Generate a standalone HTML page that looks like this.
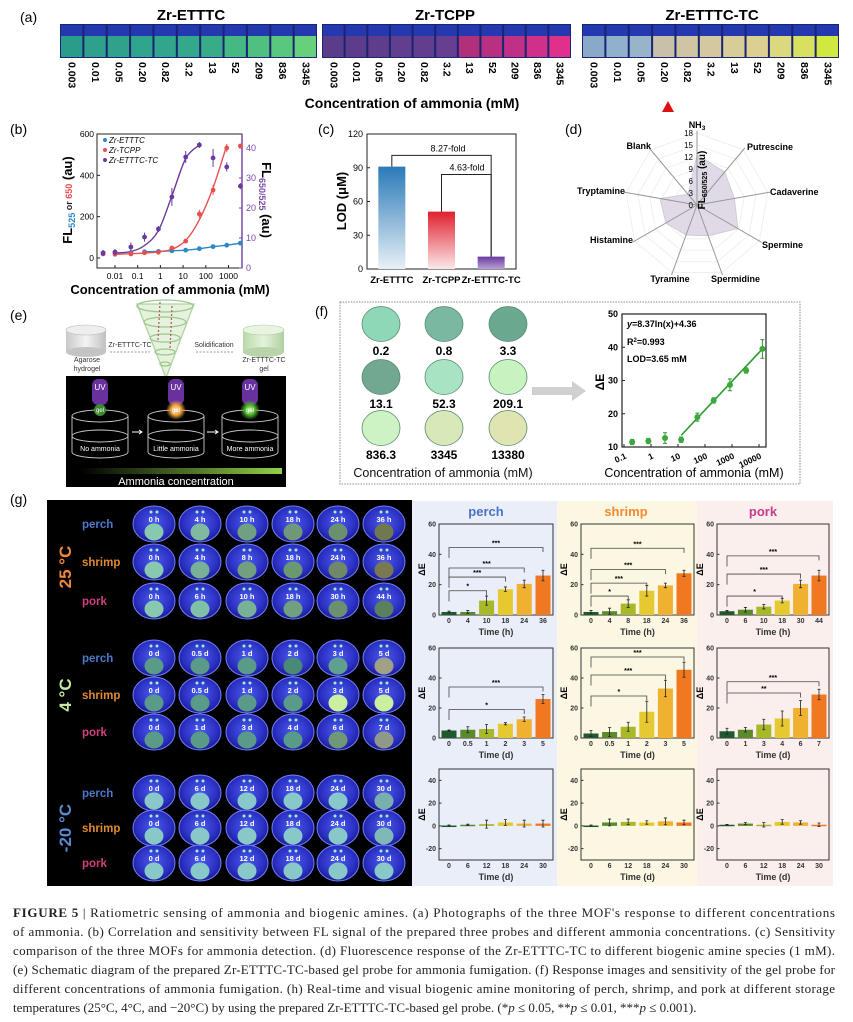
<!DOCTYPE html>
<html><head><meta charset="utf-8">
<style>
html,body{margin:0;padding:0;background:#fff;}
svg{display:block;font-family:"Liberation Sans",Arial,sans-serif;}
.b{font-weight:bold;}
.cap{font-family:"Liberation Serif",serif;font-size:13px;fill:#222;}
</style></head>
<body>
<svg id="fig" xmlns="http://www.w3.org/2000/svg" width="853" height="1022" viewBox="0 0 853 1022">
<defs>
  <radialGradient id="dishG" cx="50%" cy="45%" r="60%"><stop offset="0" stop-color="#4a5cf0"/><stop offset="0.7" stop-color="#2a2ec0"/><stop offset="1" stop-color="#15157a"/></radialGradient>
  <linearGradient id="gradBar" x1="0" x2="1"><stop offset="0" stop-color="#000"/><stop offset="1" stop-color="#90d048"/></linearGradient>
  <linearGradient id="gBlue" x1="0" y1="0" x2="0" y2="1"><stop offset="0" stop-color="#2a7ab8"/><stop offset="1" stop-color="#e8f0f6"/></linearGradient>
  <linearGradient id="gRed" x1="0" y1="0" x2="0" y2="1"><stop offset="0" stop-color="#e0202e"/><stop offset="1" stop-color="#fbe8ea"/></linearGradient>
  <linearGradient id="gPur" x1="0" y1="0" x2="0" y2="1"><stop offset="0" stop-color="#6a3aa0"/><stop offset="1" stop-color="#b8a0d8"/></linearGradient>
  <radialGradient id="uvG" cx="50%" cy="50%" r="50%"><stop offset="0" stop-color="#b070f0"/><stop offset="1" stop-color="#5a2a90" stop-opacity="0"/></radialGradient>
  <radialGradient id="orG" cx="50%" cy="50%" r="50%"><stop offset="0" stop-color="#fff0b0"/><stop offset="0.5" stop-color="#f0a040"/><stop offset="1" stop-color="#f0a040" stop-opacity="0"/></radialGradient>
  <radialGradient id="grG" cx="50%" cy="50%" r="50%"><stop offset="0" stop-color="#c0ff90"/><stop offset="0.5" stop-color="#50b030"/><stop offset="1" stop-color="#50b030" stop-opacity="0"/></radialGradient>
  <linearGradient id="cylG" x1="0" x2="1"><stop offset="0" stop-color="#c8c8c8"/><stop offset="0.5" stop-color="#f4f4f4"/><stop offset="1" stop-color="#c0c0c0"/></linearGradient>
  <linearGradient id="cylG2" x1="0" x2="1"><stop offset="0" stop-color="#b8d8a8"/><stop offset="0.5" stop-color="#e4f4dc"/><stop offset="1" stop-color="#b0d0a0"/></linearGradient>
</defs>

<!-- (a) -->
<g>
  <text x="20" y="22" font-size="14">(a)</text>
  <text class="b" x="191" y="20" font-size="15" text-anchor="middle">Zr-ETTTC</text>
  <text class="b" x="445" y="20" font-size="15" text-anchor="middle">Zr-TCPP</text>
  <text class="b" x="712" y="20" font-size="15" text-anchor="middle">Zr-ETTTC-TC</text>
  <g id="vials"></g>
  <text class="b" x="412" y="108" font-size="14" text-anchor="middle">Concentration  of ammonia (mM)</text>
  <polygon points="668,101 662,112 674,112" fill="#e01010"/>
</g>

<!-- (b) -->
<g id="pb">
  <text x="10" y="134" font-size="14">(b)</text>
</g>
<!-- (c) -->
<g id="pc">
  <text x="318" y="134" font-size="14">(c)</text>
</g>
<!-- (d) -->
<g id="pd">
  <text x="565" y="134" font-size="14">(d)</text>
</g>

<!-- (e) -->
<g id="pe">
  <text x="10" y="320" font-size="14">(e)</text>
  <g>
    <rect x="66" y="330" width="40" height="22" fill="url(#cylG)"/>
    <ellipse cx="86" cy="352" rx="20" ry="5" fill="#c4c4c4"/>
    <ellipse cx="86" cy="330" rx="20" ry="5" fill="#eee" stroke="#bbb" stroke-width="0.6"/>
  </g>
  <text x="87" y="362" font-size="7" text-anchor="middle" fill="#333">Agarose</text>
  <text x="87" y="371" font-size="7" text-anchor="middle" fill="#333">hydrogel</text>
  <text x="130" y="347" font-size="7" text-anchor="middle" fill="#333">Zr-ETTTC-TC</text>
  <line x1="110" y1="352" x2="150" y2="352" stroke="#999" stroke-dasharray="2,1.5"/>
  <g fill="none" stroke="#9cc88c" stroke-width="1.3">
    <polygon points="137,304 194,304 166,378" fill="#e6f2de" stroke="#b0d4a0"/>
    <ellipse cx="165" cy="306" rx="28" ry="6"/>
    <ellipse cx="165" cy="322" rx="21" ry="5"/>
    <ellipse cx="165" cy="338" rx="15" ry="4"/>
    <ellipse cx="165" cy="352" rx="10" ry="3"/>
    <ellipse cx="165" cy="364" rx="5" ry="2"/>
    <line x1="160" y1="302" x2="158" y2="340" stroke="#b06070" stroke-dasharray="2,2"/>
    <line x1="172" y1="306" x2="170" y2="350" stroke="#b06070" stroke-dasharray="2,2"/>
  </g>
  <text x="214" y="347" font-size="7" text-anchor="middle" fill="#333">Solidification</text>
  <line x1="196" y1="352" x2="234" y2="352" stroke="#999" stroke-dasharray="2,1.5"/>
  <g>
    <rect x="243" y="330" width="41" height="22" fill="url(#cylG2)"/>
    <ellipse cx="263.5" cy="352" rx="20.5" ry="5" fill="#b8d4a8"/>
    <ellipse cx="263.5" cy="330" rx="20.5" ry="5" fill="#e8f4e0" stroke="#b0d0a0" stroke-width="0.6"/>
  </g>
  <text x="264" y="362" font-size="7" text-anchor="middle" fill="#333">Zr-ETTTC-TC</text>
  <text x="264" y="371" font-size="7" text-anchor="middle" fill="#333">gel</text>
  <rect x="66" y="376" width="220" height="111" fill="#000"/>
  <g id="fum"></g>
  <rect x="80" y="468" width="202" height="6" fill="url(#gradBar)"/>
  <text x="176" y="485" font-size="11" text-anchor="middle" fill="#fff">Ammonia concentration</text>
</g>

<!-- (f) -->
<g id="pf">
  <rect x="340" y="302" width="460" height="182" fill="none" stroke="#888" stroke-dasharray="1.5,1.2" stroke-width="1"/>
  <text x="315" y="316" font-size="14">(f)</text>
  <g id="fcircles"></g>
  <text x="443" y="477" font-size="12.5" text-anchor="middle" fill="#111">Concentration  of  ammonia (mM)</text>
  <polygon points="532,387 572,387 572,381 586,391 572,401 572,395 532,395" fill="#d0d0d0"/>
</g>

<!-- (g) -->
<g id="pg">
  <text x="10" y="504" font-size="14">(g)</text>
  <rect x="412" y="501" width="145" height="385" fill="#e9eef8"/>
  <rect x="557" y="501" width="140" height="385" fill="#fcf7e2"/>
  <rect x="697" y="501" width="136" height="385" fill="#fbefed"/>
  <text class="b" x="486" y="516" font-size="13" text-anchor="middle" fill="#4a72c8">perch</text>
  <text class="b" x="626" y="516" font-size="13" text-anchor="middle" fill="#f08a30">shrimp</text>
  <text class="b" x="763" y="516" font-size="13" text-anchor="middle" fill="#c83a8a">pork</text>
  <rect x="47" y="500" width="365" height="386" fill="#000"/>
  <g id="photos"></g>
  <g id="bars"></g>
</g>

<!-- caption -->
<g class="cap">
  <text x="13" y="917" textLength="822" lengthAdjust="spacing"><tspan font-weight="bold">FIGURE 5</tspan>  |  Ratiometric sensing of ammonia and biogenic amines. (a) Photographs of the three MOF's response to different concentrations</text>
  <text x="13" y="936" textLength="822" lengthAdjust="spacing">of ammonia. (b) Correlation and sensitivity between FL signal of the prepared three probes and different ammonia concentrations. (c) Sensitivity</text>
  <text x="13" y="955" textLength="822" lengthAdjust="spacing">comparison of the three MOFs for ammonia detection. (d) Fluorescence response of the Zr-ETTTC-TC to different biogenic amine species (1 mM).</text>
  <text x="13" y="974" textLength="822" lengthAdjust="spacing">(e) Schematic diagram of the prepared Zr-ETTTC-TC-based gel probe for ammonia fumigation. (f) Response images and sensitivity of the gel probe for</text>
  <text x="13" y="993" textLength="822" lengthAdjust="spacing">different concentrations of ammonia fumigation. (h) Real-time and visual biogenic amine monitoring of perch, shrimp, and pork at different storage</text>
  <text x="13" y="1012">temperatures (25°C, 4°C, and −20°C) by using the prepared Zr-ETTTC-TC-based gel probe. (*<tspan font-style="italic">p</tspan> ≤ 0.05, **<tspan font-style="italic">p</tspan> ≤ 0.01, ***<tspan font-style="italic">p</tspan> ≤ 0.001).</text>
</g>
</svg>

<script>
const NS='http://www.w3.org/2000/svg';
function add(p,tag,attrs,name,txt){
  const el=document.createElementNS(NS,tag);
  for(const k in attrs) el.setAttribute(k,attrs[k]);
  
  
  if(txt!==undefined) el.textContent=txt;
  p.appendChild(el);
  return el;
}
function smooth(pts){
  let d='M'+pts[0][0]+','+pts[0][1];
  for(let i=0;i<pts.length-1;i++){
    const p0=pts[Math.max(0,i-1)],p1=pts[i],p2=pts[i+1],p3=pts[Math.min(pts.length-1,i+2)];
    const c1=[p1[0]+(p2[0]-p0[0])/6,p1[1]+(p2[1]-p0[1])/6];
    const c2=[p2[0]-(p3[0]-p1[0])/6,p2[1]-(p3[1]-p1[1])/6];
    d+=' C'+c1.join(',')+' '+c2.join(',')+' '+p2.join(',');
  }
  return d;
}

/* ---------- (a) data ---------- */
const aConc=['0.003','0.01','0.05','0.20','0.82','3.2','13','52','209','836','3345'];
const aColorsEttc=['#2a9c8a','#2ea08c','#30a28c','#30a48c','#32a68c','#34a88a','#38ac88','#46b882','#50c080','#58c87e','#66d07a'];
const aColorsTcpp=['#5a3c8a','#5e3c8c','#603c8c','#623e8e','#643e8e','#683e90','#b0307a','#b83080','#c03086','#d0308a','#e0308c'];
const aColorsTc=['#8aa8c8','#90b0cc','#98b4c8','#c8c0a8','#cfc4a4','#d4c8a0','#d8cc98','#dcd090','#dcd880','#d8e060','#d0e840'];
(function(){
  const g=document.getElementById('vials');
  const strips=[[60,317,aColorsEttc,'ettc'],[322,571,aColorsTcpp,'tcpp'],[582,839,aColorsTc,'ettc-tc']];
  strips.forEach(s=>{
    const [x0,x1,cols,nm]=s;
    add(g,'rect',{x:x0,y:24,width:x1-x0,height:34,fill:'#1a2470'},'vial-strip-'+nm);
    const w=(x1-x0)/aConc.length;
    aConc.forEach((c,i)=>{
      const x=x0+i*w;
      add(g,'rect',{x:x+1,y:25,width:w-2,height:11,fill:'#2438b0'},'vial-cap');
      add(g,'rect',{x:x+1,y:36,width:w-2,height:21,fill:cols[i]},'vial-'+nm+'-'+c);
      const cx=x+w/2;
      add(g,'text',{x:cx,y:62,'font-size':10.5,'font-weight':'bold','dominant-baseline':'central',transform:'rotate(90,'+cx+',62)'},'conc-label',c);
    });
  });
})();

/* ---------- (b) data ---------- */
const bConc=[0.003,0.01,0.05,0.2,0.82,3.2,13,52,209,836,3345];
const bEttc=[25,28,26,30,32,35,38,45,55,62,72];
const bTcpp=[20,18,20,25,28,48,82,213,329,532,542];
const bTc=[5,5.3,7,10.3,13,23.7,37,41,36.7,33.7,27.3];
const bErrEttc=[5,4,4,4,4,5,6,6,6,6,6];
const bErrTcpp=[6,6,8,5,5,8,10,20,25,20,10];
const bErrTc=[1,1,1.5,1.5,1,3,2,1,3,1.5,1];
const bFitTcConc=[0.01,0.05,0.2,0.82,3.2,13,52];
const bFitTcVal=[5,5.5,7.5,12.5,24,36.5,41];
const bFitTcppConc=[0.01,0.2,0.82,3.2,13,52,209,836];
const bFitTcppVal=[18,24,30,42,85,185,340,545];
const bXTicks=[0.01,0.1,1,10,100,1000];
const bXTickLabels=['0.01','0.1','1','10','100','1000'];
const bYLTicks=[0,200,400,600];
const bYRTicks=[0,10,20,30,40];
(function(){
  const g=document.getElementById('pb');
  const bx=v=>115+(Math.log10(v)+2)*22.7;
  const byL=v=>258-v*(124/600);
  const byR=v=>268-v*3;
  add(g,'rect',{x:97,y:134,width:145,height:134,fill:'none',stroke:'#222','stroke-width':1},'b-plot-frame');
  add(g,'line',{x1:242,y1:134,x2:242,y2:268,stroke:'#7a4aa8','stroke-width':1.5},'b-right-axis');
  bYLTicks.forEach(t=>{
    add(g,'line',{x1:97,x2:100,y1:byL(t),y2:byL(t),stroke:'#222'},'b-left-tick');
    add(g,'text',{x:94,y:byL(t)+3,'font-size':8.5,'text-anchor':'end'},'b-left-tick-label',t);
  });
  bYRTicks.forEach(t=>{
    add(g,'line',{x1:242,x2:239,y1:byR(t),y2:byR(t),stroke:'#7a4aa8'},'b-right-tick');
    add(g,'text',{x:246,y:byR(t)+3,'font-size':9,fill:'#7a4aa8'},'b-right-tick-label',t);
  });
  bXTicks.forEach((t,i)=>{
    add(g,'line',{x1:bx(t),x2:bx(t),y1:268,y2:265,stroke:'#222'},'b-x-tick');
    add(g,'text',{x:bx(t),y:279,'font-size':8.5,'text-anchor':'middle'},'b-x-tick-label',bXTickLabels[i]);
  });
  const lt=add(g,'text',{transform:'translate(72,200) rotate(-90)','font-size':13,'font-weight':'bold','text-anchor':'middle'},'b-left-axis-title');
  lt.innerHTML='FL<tspan font-size="9" dy="3" fill="#2a88c8">525</tspan><tspan font-size="9" dy="-3" fill="#222"> or </tspan><tspan font-size="9" fill="#e84848">650</tspan><tspan> (au)</tspan>';
  const rt=add(g,'text',{transform:'translate(262,200) rotate(90)','font-size':13,'font-weight':'bold','text-anchor':'middle'},'b-right-axis-title');
  rt.innerHTML='FL<tspan font-size="9" dy="3" fill="#7a4aa8">650/525</tspan><tspan dy="-3"> (au)</tspan>';
  add(g,'text',{x:170,y:294,'font-size':13,'font-weight':'bold','text-anchor':'middle'},'b-x-axis-title','Concentration of ammonia (mM)');
  add(g,'path',{d:smooth(bConc.map((c,i)=>[bx(c),byL(bEttc[i])]).slice(3)),fill:'none',stroke:'#2a88c8','stroke-width':1.4},'b-fit-ettc');
  add(g,'path',{d:smooth(bFitTcppConc.map((c,i)=>[bx(c),byL(bFitTcppVal[i])])),fill:'none',stroke:'#e85050','stroke-width':1.4},'b-fit-tcpp');
  add(g,'path',{d:smooth(bFitTcConc.map((c,i)=>[bx(c),byR(bFitTcVal[i])])),fill:'none',stroke:'#6a3aa0','stroke-width':1.4},'b-fit-ettc-tc');
  const series=[[bEttc,bErrEttc,byL,'#2a88c8','ettc'],[bTcpp,bErrTcpp,byL,'#e85050','tcpp'],[bTc,bErrTc,byR,'#6a3aa0','ettc-tc']];
  series.forEach(s=>{
    const [vals,errs,sc,col,nm]=s;
    vals.forEach((v,i)=>{
      const x=bx(bConc[i]);
      add(g,'line',{x1:x,x2:x,y1:sc(v+errs[i]),y2:sc(v-errs[i]),stroke:col,'stroke-width':1},'b-errorbar-'+nm);
      add(g,'circle',{cx:x,cy:sc(v),r:2.4,fill:col},'b-point-'+nm);
    });
  });
  const leg=[['Zr-ETTTC','#2a88c8',143],['Zr-TCPP','#e85050',153],['Zr-ETTTC-TC','#6a3aa0',163]];
  leg.forEach(l=>{
    add(g,'circle',{cx:105,cy:l[2]-3,r:2,fill:l[1]},'b-legend-marker');
    add(g,'text',{x:109,y:l[2],'font-size':8,'font-style':'italic'},'b-legend-entry',l[0]);
  });
})();

/* ---------- (c) data ---------- */
const cCats=['Zr-ETTTC','Zr-TCPP','Zr-ETTTC-TC'];
const cVals=[91,51,11];
const cTicks=[0,30,60,90,120];
const cFolds=['8.27-fold','4.63-fold'];
const cBracketY=[101,84];
(function(){
  const g=document.getElementById('pc');
  const x0=367,x1=516,step=(x1-x0)/cCats.length;
  const cx=i=>x0+step*(i+0.5);
  const cy=v=>269-v*(135/120);
  add(g,'rect',{x:x0,y:134,width:x1-x0,height:135,fill:'none',stroke:'#222'},'c-plot-frame');
  cTicks.forEach(t=>{
    add(g,'line',{x1:x0,x2:x0+3,y1:cy(t),y2:cy(t),stroke:'#222'},'c-y-tick');
    add(g,'text',{x:x0-4,y:cy(t)+3,'font-size':9,'text-anchor':'end'},'c-y-tick-label',t);
  });
  add(g,'text',{transform:'translate(346,201) rotate(-90)','font-size':13,'font-weight':'bold','text-anchor':'middle'},'c-y-axis-title','LOD (μM)');
  const fills=['url(#gBlue)','url(#gRed)','url(#gPur)'];
  cVals.forEach((v,i)=>{
    add(g,'rect',{x:cx(i)-13.5,y:cy(v),width:27,height:cy(0)-cy(v),fill:fills[i]},'c-bar-'+cCats[i].toLowerCase());
    add(g,'text',{x:cx(i),y:283,'font-size':9.5,'font-weight':'bold','text-anchor':'middle'},'c-x-label',cCats[i]);
  });
  const pairs=[[0,2],[1,2]];
  pairs.forEach((p,k)=>{
    const ya=cy(cBracketY[k]);
    add(g,'path',{d:'M'+cx(p[0])+','+cy(cVals[p[0]])+' V'+ya+' H'+cx(p[1])+' V'+cy(cVals[p[1]]),fill:'none',stroke:'#222','stroke-width':1},'c-bracket');
    const tx=k===0?448:467;
    add(g,'text',{x:tx,y:ya-4,'font-size':9,'text-anchor':'middle'},'c-fold-label',cFolds[k]);
  });
})();

/* ---------- (d) data ---------- */
const dAxes=['NH3','Putrescine','Cadaverine','Spermine','Spermidine','Tyramine','Histamine','Tryptamine','Blank'];
const dVals=[12.5,10.8,9.5,11.8,8.2,8,9,9.4,3.5];
const dTicks=[0,3,6,9,12,15,18];
(function(){
  const g=document.getElementById('pd');
  const cx=697,cy=205,R=72,max=18;
  const pt=(i,v)=>{const a=(i*40)*Math.PI/180;return [cx+Math.sin(a)*v/max*R, cy-Math.cos(a)*v/max*R];};
  dTicks.slice(1).forEach(t=>{
    const pts=dAxes.map((a,i)=>pt(i,t).join(',')).join(' ');
    add(g,'polygon',{points:pts,fill:'none',stroke:'#ececec','stroke-width':0.8},'d-grid-ring');
  });
  add(g,'polygon',{points:dVals.map((v,i)=>pt(i,v).join(',')).join(' '),fill:'#ddd6e4',stroke:'#cfc6d8','stroke-width':0.8,'fill-opacity':0.9},'d-radar-area');
  dAxes.forEach((a,i)=>{
    const e=pt(i,18.6);
    add(g,'line',{x1:cx,y1:cy,x2:e[0],y2:e[1],stroke:'#999','stroke-width':1},'d-spoke');
  });
  dTicks.forEach(t=>{
    add(g,'text',{x:cx-4,y:cy-t/max*R+3,'font-size':8,'text-anchor':'end'},'d-tick-label',t);
  });
  const lbl=[[697,128,'middle'],[747,150,'start'],[770,195,'start'],[762,248,'start'],[711,282,'start'],[670,282,'middle'],[633,243,'end'],[625,194,'end'],[651,149,'end']];
  dAxes.forEach((a,i)=>{
    const t=add(g,'text',{x:lbl[i][0],y:lbl[i][1],'font-size':9,'font-weight':'bold','text-anchor':lbl[i][2]},'d-axis-label');
    if(a==='NH3'){t.innerHTML='NH<tspan font-size="6.5" dy="2">3</tspan>';} else t.textContent=a;
  });
  const at=add(g,'text',{transform:'translate(705,180) rotate(-90)','font-size':10,'font-weight':'bold','text-anchor':'middle'},'d-axis-title');
  at.innerHTML='FL<tspan font-size="7" dy="2">650/525</tspan><tspan dy="-2"> (au)</tspan>';
})();

/* ---------- (e) fumigation schematic ---------- */
(function(){
  const g=document.getElementById('fum');
  const xs=[100,176,250];
  const glows=['#5aa040','url(#orG)','url(#grG)'];
  const labels=['No ammonia','Little ammonia','More ammonia'];
  xs.forEach((x,i)=>{
    add(g,'rect',{x:x-8,y:379,width:16,height:26,rx:6,fill:'#7a3ab8',opacity:0.85},'uv-lamp');
    add(g,'text',{x:x,y:390,'font-size':8,fill:'#fff','text-anchor':'middle'},'uv-label','UV');
    add(g,'path',{d:'M'+(x-28)+',416 V452 A28,6 0 0 0 '+(x+28)+',452 V416',fill:'none',stroke:'#ccc','stroke-width':0.9},'fumigation-cylinder');
    add(g,'ellipse',{cx:x,cy:416,rx:28,ry:6,fill:'none',stroke:'#ccc','stroke-width':0.9},'cylinder-top');
    add(g,'ellipse',{cx:x,cy:436,rx:28,ry:6,fill:'none',stroke:'#ccc','stroke-width':0.9},'cylinder-middle');
    if(i===0) add(g,'circle',{cx:x,cy:410,r:6,fill:'#3a8a30'},'gel-dot');
    else add(g,'circle',{cx:x,cy:410,r:10,fill:glows[i]},'gel-glow');
    add(g,'text',{x:x,y:412,'font-size':6,fill:'#fff','text-anchor':'middle'},'gel-text','gel');
    add(g,'text',{x:x,y:451,'font-size':7,fill:'#fff','text-anchor':'middle'},'cylinder-label',labels[i]);
  });
  [[132,142],[207,218]].forEach(a=>{
    add(g,'path',{d:'M'+a[0]+',432 H'+a[1]+' M'+(a[1]-3)+',430 L'+a[1]+',432 L'+(a[1]-3)+',434',stroke:'#fff',fill:'none','stroke-width':1},'step-arrow');
  });
})();

/* ---------- (f) data ---------- */
const fConc=[0.2,0.8,3.3,13.1,52.3,209.1,836.3,3345,13380];
const fConcLabels=['0.2','0.8','3.3','13.1','52.3','209.1','836.3','3345','13380'];
const fDeltaE=[11.5,11.8,12.7,12.2,19,24,28.7,33,39.5];
const fErr=[0.8,0.8,1.6,0.8,1.2,0.8,1.8,0.8,2.8];
const fCircleColors=['#8ed8b8','#7ab8a2','#6aa890','#72a892','#a8e4c4','#c8f2c0','#cdf3c4','#d8e8b8','#e0e4b0'];
const fFitX=[13.1,13380];
const fFitY=[13.5,39.5];
const fYTicks=[10,20,30,40,50];
const fXTicks=[0.1,1,10,100,1000,10000];
const fXTickLabels=['0.1','1','10','100','1000','10000'];
(function(){
  const gc=document.getElementById('fcircles');
  const colX=[381,444,508],rowY=[324,377,428];
  fConcLabels.forEach((l,i)=>{
    const x=colX[i%3],y=rowY[Math.floor(i/3)];
    add(gc,'ellipse',{cx:x,cy:y,rx:19,ry:17.5,fill:fCircleColors[i],stroke:'#5a8a70','stroke-width':0.8},'gel-circle-'+l);
    add(gc,'text',{x:x,y:y+31,'font-size':12,'font-weight':'bold','text-anchor':'middle'},'gel-circle-label',l);
  });
  const g=document.getElementById('pf');
  const fx=v=>624+(Math.log10(v)+1)*27;
  const fy=v=>447-(v-10)*(133/40);
  add(g,'rect',{x:622,y:314,width:144,height:133,fill:'none',stroke:'#222','stroke-width':1.2},'f-plot-frame');
  fYTicks.forEach(t=>{
    add(g,'line',{x1:622,x2:625,y1:fy(t),y2:fy(t),stroke:'#222'},'f-y-tick');
    add(g,'text',{x:618,y:fy(t)+3,'font-size':9,'font-weight':'bold','text-anchor':'end'},'f-y-tick-label',t);
  });
  fXTicks.forEach((t,i)=>{
    add(g,'line',{x1:fx(t),x2:fx(t),y1:447,y2:444,stroke:'#222'},'f-x-tick');
    add(g,'text',{x:fx(t)+3,y:458,'font-size':8.5,'font-weight':'bold','text-anchor':'end',transform:'rotate(-25,'+(fx(t)+3)+',458)'},'f-x-tick-label',fXTickLabels[i]);
  });
  add(g,'text',{transform:'translate(604,382) rotate(-90)','font-size':12,'font-weight':'bold','text-anchor':'middle'},'f-y-axis-title','ΔE');
  add(g,'text',{x:694,y:477,'font-size':12.5,'text-anchor':'middle'},'f-x-axis-title','Concentration  of  ammonia (mM)');
  add(g,'line',{x1:fx(fFitX[0]),y1:fy(fFitY[0]),x2:fx(fFitX[1]),y2:fy(fFitY[1]),stroke:'#2a9a2a','stroke-width':1.6},'f-fit-line');
  fDeltaE.forEach((v,i)=>{
    const x=fx(fConc[i]);
    add(g,'path',{d:'M'+x+','+fy(v+fErr[i])+' V'+fy(v-fErr[i])+' M'+(x-2)+','+fy(v+fErr[i])+' h4 M'+(x-2)+','+fy(v-fErr[i])+' h4',stroke:'#2a9a2a','stroke-width':1,fill:'none'},'f-errorbar');
    add(g,'circle',{cx:x,cy:fy(v),r:3,fill:'#3aa83a'},'f-point');
  });
  const eq=add(g,'text',{x:627,y:327,'font-size':9,'font-weight':'bold'},'f-equation');
  eq.innerHTML='<tspan font-style="italic">y</tspan>=8.37ln(x)+4.36';
  const r2=add(g,'text',{x:627,y:345,'font-size':9,'font-weight':'bold'},'f-r-squared');
  r2.innerHTML='R<tspan font-size="6" dy="-3">2</tspan><tspan dy="3">=0.993</tspan>';
  add(g,'text',{x:627,y:362,'font-size':9,'font-weight':'bold'},'f-lod','LOD=3.65 mM');
})();

/* ---------- (g) photos ---------- */
const gSamples=['perch','shrimp','pork'];
const gTemps=['25 °C','4 °C','-20 °C'];
const gPhotoLabels=[
 ['0 h','4 h','10 h','18 h','24 h','36 h'],['0 h','4 h','8 h','18 h','24 h','36 h'],['0 h','6 h','10 h','18 h','30 h','44 h'],
 ['0 d','0.5 d','1 d','2 d','3 d','5 d'],['0 d','0.5 d','1 d','2 d','3 d','5 d'],['0 d','1 d','3 d','4 d','6 d','7 d'],
 ['0 d','6 d','12 d','18 d','24 d','30 d'],['0 d','6 d','12 d','18 d','24 d','30 d'],['0 d','6 d','12 d','18 d','24 d','30 d']];
const gGelColors=[
 ['#88c8b0','#80b8a0','#70a080','#709878','#6a9070','#707850'],['#88c8b0','#78b098','#70a080','#6a9870','#708868','#7a7850'],['#88c8b0','#80c0a8','#78b098','#70a080','#6a9070','#5a8060'],
 ['#5a9a88','#5a9a88','#5a9a88','#4a8878','#60a090','#a0a088'],['#5a9a88','#5a9a88','#5a9a88','#5a9a88','#c8f0a0','#c8f0a0'],['#5a9a88','#5a9a88','#5a9a88','#5a9a88','#709878','#909888'],
 ['#88c8c8','#88c8c8','#88c8c8','#88c8c8','#88c8c8','#78b0b0'],['#88c8c8','#88c8c8','#88c8c8','#88c8c8','#88c8c8','#80b8b8'],['#88c8c8','#88c8c8','#88c8c8','#88c8c8','#88c8c8','#88c8c8']];
(function(){
  const g=document.getElementById('photos');
  const colX=[154,200,247,293,338,384];
  const rowY=[524,562,601,658,695,732,793,828,863];
  const sCols=['#4a78c8','#e08a30','#d04080'];
  const tCols=['#f08a3a','#c8eaa0','#5a8ad0'];
  rowY.forEach((y,r)=>{
    add(g,'text',{x:82,y:y+4,'font-size':11.5,'font-weight':'bold',fill:sCols[r%3]},'photo-row-label-'+gSamples[r%3],gSamples[r%3]);
    colX.forEach((x,c)=>{
      add(g,'ellipse',{cx:x,cy:y,rx:21,ry:18,fill:'url(#dishG)',stroke:'#7080ff','stroke-width':1},'sample-dish');
      add(g,'circle',{cx:x-3,cy:y-12,r:1.5,fill:'#a0f0d0'},'dish-dot');
      add(g,'circle',{cx:x+3,cy:y-12,r:1.5,fill:'#a0f0d0'},'dish-dot');
      add(g,'text',{x:x,y:y-2,'font-size':7.5,'font-weight':'bold',fill:'#fff','text-anchor':'middle'},'dish-time-label',gPhotoLabels[r][c]);
      add(g,'ellipse',{cx:x,cy:y+8,rx:9.5,ry:8.5,fill:gGelColors[r][c]},'gel-indicator');
    });
  });
  const tY=[567,695,828];
  gTemps.forEach((t,i)=>{
    add(g,'text',{transform:'translate(71,'+tY[i]+') rotate(-90)','font-size':17,'font-weight':'bold',fill:tCols[i],'text-anchor':'middle'},'temperature-label',t);
  });
})();

/* ---------- (g) bar charts data ---------- */
const perch25=[2,2,9.5,17,20.5,26];
const shrimp25=[2,2.5,7.5,16,19.5,27.5];
const pork25=[2.5,3.5,5.5,9.5,20.5,26];
const perch4=[5,5.5,6,9.5,12.5,26];
const shrimp4=[3,4,7.5,17.5,33,45.5];
const pork4=[4.5,5.5,9,13,20,29];
const perchM20=[0.3,1,1.5,3,2,2];
const shrimpM20=[0.3,3,3.5,3,4,3];
const porkM20=[1,2,1,3.5,3,1];
const perch25Err=[0.5,1,3,1.5,2.5,3.5];
const shrimp25Err=[1,2,2.5,3.5,1.5,2];
const pork25Err=[0.5,1.5,1.5,1.5,2.5,3.5];
const perch4Err=[0.3,2,3,0.7,1.5,3];
const shrimp4Err=[2,3,3,7,5.5,5];
const pork4Err=[2,1.5,3.5,5,5,3.5];
const perchM20Err=[0.5,0.5,3.5,2.5,3,3];
const shrimpM20Err=[0.5,3,2.5,1.5,3,2];
const porkM20Err=[0.3,1,2,2,1.5,1.5];
const labels25=[['0','4','10','18','24','36'],['0','4','8','18','24','36'],['0','6','10','18','30','44']];
const labels4=[['0','0.5','1','2','3','5'],['0','0.5','1','2','3','5'],['0','1','3','4','6','7']];
const labelsM20=['0','6','12','18','24','30'];
const brk25=[[[2,16,'*'],[3,25,'***'],[4,31,'***'],[5,44.5,'***']],[[2,12.5,'*'],[3,21,'***'],[4,30,'***'],[5,44,'***']],[[3,12.5,'*'],[4,27,'***'],[5,39,'***']]];
const brk4=[[[4,19,'*'],[5,34,'***']],[[3,28,'*'],[4,42,'***'],[5,54,'***']],[[4,30,'**'],[5,37.5,'***']]];
const ticks0to60=[0,20,40,60];
const ticksM20=[-20,0,20,40];
(function(){
  const g=document.getElementById('bars');
  const cols=[[439,553],[581,694],[717,829]];
  const rows=[[524,615,0,60,ticks0to60,'Time (h)'],[648,738,0,60,ticks0to60,'Time (d)'],[769,860,-30,50,ticksM20,'Time (d)']];
  const data=[[perch25,shrimp25,pork25],[perch4,shrimp4,pork4],[perchM20,shrimpM20,porkM20]];
  const errs=[[perch25Err,shrimp25Err,pork25Err],[perch4Err,shrimp4Err,pork4Err],[perchM20Err,shrimpM20Err,porkM20Err]];
  const xl=[labels25,labels4,[labelsM20,labelsM20,labelsM20]];
  const brks=[brk25,brk4,[[],[],[]]];
  const barCols=['#1f5a2e','#5a8a2a','#a8b828','#e6c830','#f0b030','#f07820'];
  const temps=['25c','4c','m20c'];
  rows.forEach((rw,r)=>{
    const [top,bot,lo,hi,ticks,title]=rw;
    const y=v=>bot-(v-lo)*(bot-top)/(hi-lo);
    cols.forEach((cl,c)=>{
      const [l,rr]=cl;
      const step=(rr-l-20)/5;
      const x=i=>l+10+i*step;
      const nm=gSamples[c]+'-'+temps[r];
      add(g,'rect',{x:l,y:top,width:rr-l,height:bot-top,fill:'none',stroke:'#333','stroke-width':1},'bar-frame-'+nm);
      ticks.forEach(t=>{
        add(g,'line',{x1:l,x2:l+2.5,y1:y(t),y2:y(t),stroke:'#333'},'bar-y-tick');
        add(g,'text',{x:l-3,y:y(t)+2.5,'font-size':7,'font-weight':'bold','text-anchor':'end',fill:'#333'},'bar-y-tick-label',t);
      });
      add(g,'text',{transform:'translate('+(l-14)+','+((top+bot)/2)+') rotate(-90)','font-size':9,'font-weight':'bold','text-anchor':'middle'},'bar-y-axis-title','ΔE');
      data[r][c].forEach((v,i)=>{
        const y0=y(Math.max(v,0)),y1=y(Math.min(v,0));
        add(g,'rect',{x:x(i)-7.5,y:y0,width:15,height:Math.max(y1-y0,1.5),fill:barCols[i]},'bar-'+nm+'-'+i);
        const e=errs[r][c][i];
        add(g,'path',{d:'M'+x(i)+','+y(v+e)+' V'+y(v-e)+' M'+(x(i)-1.5)+','+y(v+e)+' h3 M'+(x(i)-1.5)+','+y(v-e)+' h3',stroke:'#222','stroke-width':0.8,fill:'none'},'bar-errorbar');
        add(g,'text',{x:x(i),y:bot+8,'font-size':7,'font-weight':'bold','text-anchor':'middle',fill:'#333'},'bar-x-tick-label',xl[r][c][i]);
      });
      add(g,'text',{x:(l+rr)/2,y:bot+20,'font-size':9,'font-weight':'bold','text-anchor':'middle',fill:'#333'},'bar-x-axis-title',title);
      brks[r][c].forEach(b=>{
        const [t,yv,lab]=b;
        add(g,'path',{d:'M'+x(0)+','+y(yv-7)+' V'+y(yv)+' H'+x(t)+' V'+y(yv-3),stroke:'#444','stroke-width':0.8,fill:'none'},'significance-bracket');
        add(g,'text',{x:(x(0)+x(t))/2,y:y(yv)-2,'font-size':7,'font-weight':'bold','text-anchor':'middle'},'significance-label',lab);
      });
    });
  });
})();
</script>
</body></html>
